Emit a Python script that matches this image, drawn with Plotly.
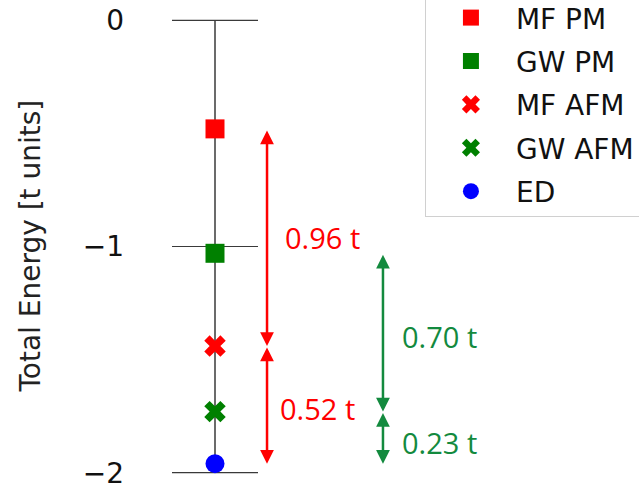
import plotly.graph_objects as go

# Total energies (units of t)
methods = ["MF PM", "GW PM", "MF AFM", "GW AFM", "ED"]
energies = [-0.48, -1.03, -1.44, -1.73, -1.96]
colors = ["#ff0000", "#008000", "#ff0000", "#008000", "#0000ff"]
symbols = ["square", "square", "x", "x", "circle"]

# Reference levels drawn as short horizontal bars
levels = [0, -1, -2]
level_labels = ["0", "\u22121", "\u22122"]

# Energy differences shown with double arrows: (upper, lower, label, colour, x)
gaps = [
    (energies[0], energies[2], "0.96 t", "#ff0000", 0.605, 0.19, 0.0),
    (energies[2], energies[4], "0.52 t", "#ff0000", 0.605, 0.13, -0.015),
    (energies[1], energies[3], "0.70 t", "#138a3e", 1.953, 0.2, -0.02),
    (energies[3], energies[4], "0.23 t", "#138a3e", 1.953, 0.2, -0.02),
]

fig = go.Figure()

# vertical guide line through the points
fig.add_trace(go.Scatter(x=[0, 0], y=[0, -2], mode="lines",
                         line=dict(color="#3a3a3a", width=1.5),
                         showlegend=False, hoverinfo="skip"))
# horizontal level bars
hx, hy = [], []
for lv in levels:
    hx += [-0.5, 0.5, None]
    hy += [lv, lv, None]
fig.add_trace(go.Scatter(x=hx, y=hy, mode="lines",
                         line=dict(color="#3a3a3a", width=1.2),
                         showlegend=False, hoverinfo="skip"))

for i, (m, e, c, s) in enumerate(zip(methods, energies, colors, symbols)):
    fig.add_trace(go.Scatter(x=[0], y=[e], mode="markers", name=m,
                             legendgroup=m,
                             marker=dict(symbol=s, color=c, size=19,
                                         line=dict(width=0)),
                             cliponaxis=False))

annotations = []
for top, bot, label, col, xa, dx, dy in gaps:
    annotations.append(dict(x=xa, y=bot, ax=xa, ay=top, xref="x", yref="y",
                            axref="x", ayref="y", text="", showarrow=True,
                            arrowhead=2, arrowside="end+start", arrowsize=1.1,
                            arrowwidth=2.5, arrowcolor=col,
                            standoff=0, startstandoff=0))
    annotations.append(dict(x=xa + dx, y=(top + bot) / 2 + dy, xref="x",
                            yref="y", text=label, showarrow=False,
                            xanchor="left", yanchor="middle",
                            font=dict(family="Open Sans", size=29, color=col)))

annotations.append(dict(x=-0.304, y=0.5, xref="paper", yref="paper",
                        text="Total Energy [t units]", textangle=-90,
                        showarrow=False, xanchor="center", yanchor="middle",
                        font=dict(family="DejaVu Sans", size=28, color="#222")))

fig.update_layout(
    width=639, height=490,
    margin=dict(l=172, r=0, t=9, b=6, autoexpand=False),
    paper_bgcolor="white", plot_bgcolor="white",
    showlegend=True,
    legend=dict(xref="container", yref="paper", x=0.665, y=1.036,
                xanchor="left", yanchor="top",
                font=dict(family="DejaVu Sans", size=28, color="#111"),
                bordercolor="#d0d0d0", borderwidth=1, bgcolor="white",
                itemwidth=80, tracegroupgap=4),
    annotations=annotations,
)
fig.update_xaxes(range=[-0.5, 4.93], visible=False)
fig.update_yaxes(range=[-2.05, 0.05], tickvals=levels, ticktext=level_labels,
                 showgrid=False, zeroline=False, showline=False,
                 ticks="", ticklabelstandoff=47,
                 tickfont=dict(family="DejaVu Sans", size=28, color="#111"))

fig.write_html("out.html")
